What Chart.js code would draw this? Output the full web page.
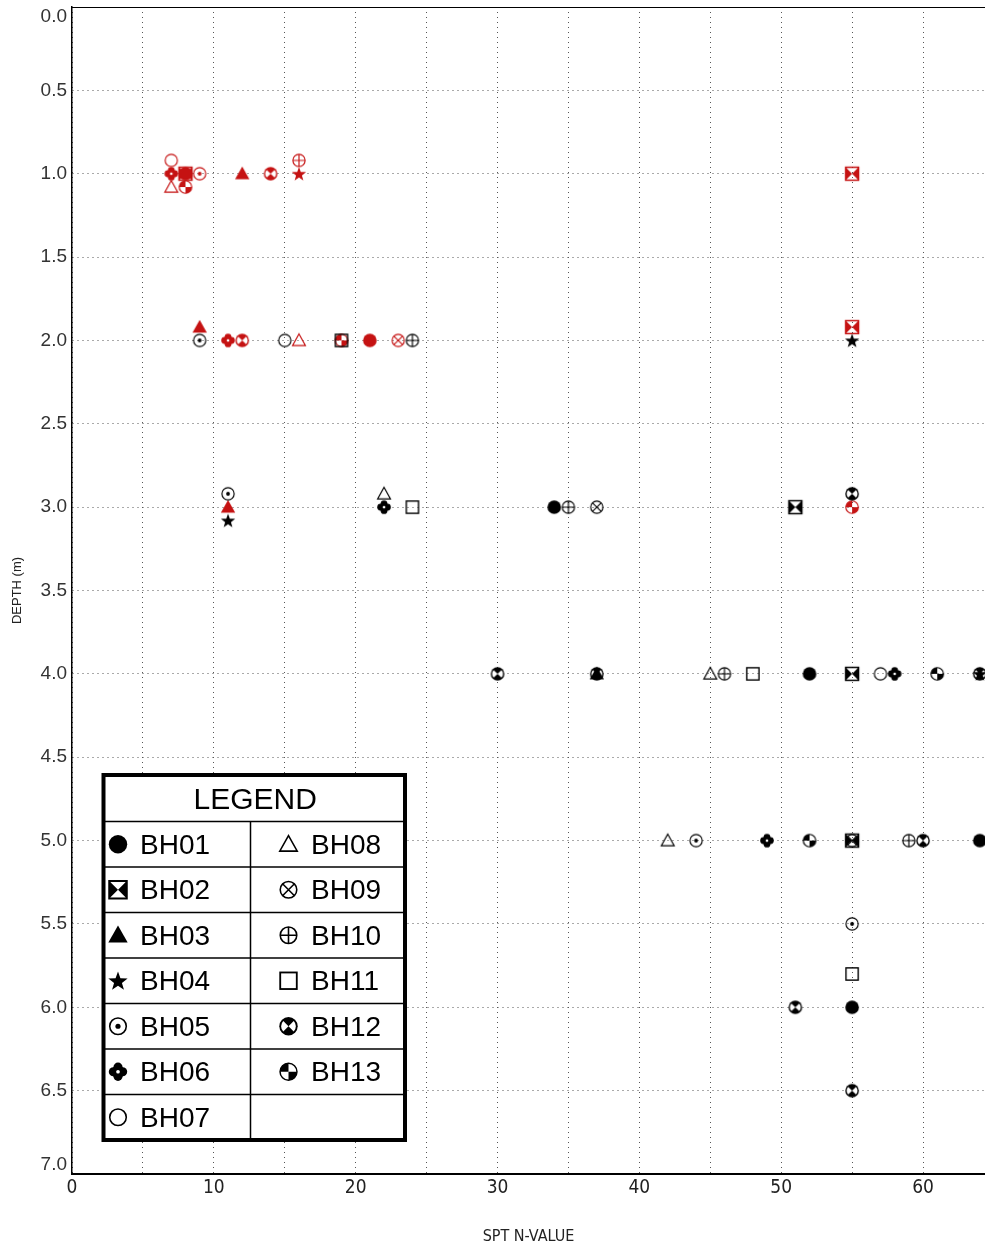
<!DOCTYPE html>
<html><head><meta charset="utf-8">
<script src="https://cdn.jsdelivr.net/npm/chart.js@4.4.0/dist/chart.umd.min.js"></script>
<style>html,body{margin:0;padding:0;background:#fff}#wrap{width:985px;height:1247px;position:relative}</style>
</head><body><div id="wrap"><canvas id="c" width="985" height="1247"></canvas></div>
<script>
// ---- data ----
const boreholes = ['BH01','BH02','BH03','BH04','BH05','BH06','BH07','BH08','BH09','BH10','BH11','BH12','BH13'];
const symbolNames = ['dot','bowtie','tri','star','circdot','quatre','circ','otri','circx','circplus','osq','bh12','bh13'];
// [SPT N, depth m] pairs, red group
const BH01_red = [[8,1.0],[21,2.0]];
const BH02_red = [[8,1.0],[55,1.0],[55,1.92]];
const BH03_red = [[12,1.0],[9,1.92],[11,3.0]];
const BH04_red = [[16,1.0]];
const BH05_red = [[9,1.0]];
const BH06_red = [[7,1.0],[11,2.0]];
const BH07_red = [[7,0.92]];
const BH08_red = [[7,1.08],[16,2.0]];
const BH09_red = [[23,2.0]];
const BH10_red = [[16,0.92]];
const BH11_red = [];
const BH12_red = [[14,1.0],[12,2.0]];
const BH13_red = [[8,1.08],[19,2.0],[55,3.0]];
// black group
const BH01_blk = [[34,3.0],[52,4.0],[64,5.0],[55,6.0]];
const BH02_blk = [[51,3.0],[55,4.0],[55,5.0]];
const BH03_blk = [[37,4.0]];
const BH04_blk = [[55,2.0],[11,3.08],[64,4.0]];
const BH05_blk = [[9,2.0],[11,2.92],[44,5.0],[55,5.5]];
const BH06_blk = [[22,3.0],[58,4.0],[49,5.0]];
const BH07_blk = [[15,2.0],[57,4.0]];
const BH08_blk = [[22,2.92],[45,4.0],[42,5.0]];
const BH09_blk = [[37,3.0],[55,5.0]];
const BH10_blk = [[24,2.0],[35,3.0],[46,4.0],[59,5.0]];
const BH11_blk = [[19,2.0],[24,3.0],[48,4.0],[55,5.8]];
const BH12_blk = [[55,2.92],[30,4.0],[37,4.0],[64,4.0],[60,5.0],[51,6.0],[55,6.5]];
const BH13_blk = [[61,4.0],[52,5.0]];
const xTicks = [0,10,20,30,40,50,60];
const yTicks = [0,0.5,1,1.5,2,2.5,3,3.5,4,4.5,5,5.5,6,6.5,7];

const redGroups = [BH01_red,BH02_red,BH03_red,BH04_red,BH05_red,BH06_red,BH07_red,BH08_red,BH09_red,BH10_red,BH11_red,BH12_red,BH13_red];
const blkGroups = [BH01_blk,BH02_blk,BH03_blk,BH04_blk,BH05_blk,BH06_blk,BH07_blk,BH08_blk,BH09_blk,BH10_blk,BH11_blk,BH12_blk,BH13_blk];

const RED = '#c51212', BLK = '#000000';

function drawSym(ctx, sym, cx, cy, r, col) {
  ctx.save();
  ctx.fillStyle = col; ctx.strokeStyle = col; ctx.lineWidth = Math.max(1.1, r*0.17);
  const circle = (rr)=>{ctx.beginPath();ctx.arc(cx,cy,rr,0,Math.PI*2);};
  switch (sym) {
    case 'dot': circle(r); ctx.fill(); break;
    case 'bowtie': {
      const h = r*0.95;
      ctx.beginPath(); ctx.moveTo(cx-h,cy-h); ctx.lineTo(cx,cy); ctx.lineTo(cx-h,cy+h); ctx.closePath(); ctx.fill();
      ctx.beginPath(); ctx.moveTo(cx+h,cy-h); ctx.lineTo(cx,cy); ctx.lineTo(cx+h,cy+h); ctx.closePath(); ctx.fill();
      ctx.lineWidth = Math.max(1.5, r*0.22);
      ctx.strokeRect(cx-h,cy-h,2*h,2*h); break; }
    case 'tri': ctx.beginPath(); ctx.moveTo(cx,cy-r*1.05); ctx.lineTo(cx+r*1.05,cy+r*0.8); ctx.lineTo(cx-r*1.05,cy+r*0.8); ctx.closePath(); ctx.fill(); break;
    case 'otri': ctx.beginPath(); ctx.moveTo(cx,cy-r*0.95); ctx.lineTo(cx+r*0.95,cy+r*0.75); ctx.lineTo(cx-r*0.95,cy+r*0.75); ctx.closePath(); ctx.stroke(); break;
    case 'star': {
      ctx.beginPath();
      for (let i=0;i<10;i++){ const a=-Math.PI/2+i*Math.PI/5; const rr = i%2===0? r*1.1 : r*0.45;
        const px=cx+rr*Math.cos(a), py=cy+rr*Math.sin(a)+r*0.1; i?ctx.lineTo(px,py):ctx.moveTo(px,py);} 
      ctx.closePath(); ctx.fill(); break; }
    case 'circdot': circle(r*0.9); ctx.stroke(); circle(r*0.28); ctx.fill(); break;
    case 'circ': circle(r*0.9); ctx.stroke(); break;
    case 'circx': { circle(r*0.9); ctx.stroke(); const d=r*0.62; ctx.beginPath(); ctx.moveTo(cx-d,cy-d); ctx.lineTo(cx+d,cy+d); ctx.moveTo(cx+d,cy-d); ctx.lineTo(cx-d,cy+d); ctx.stroke(); break; }
    case 'circplus': { circle(r*0.9); ctx.stroke(); ctx.beginPath(); ctx.moveTo(cx-r*0.9,cy); ctx.lineTo(cx+r*0.9,cy); ctx.moveTo(cx,cy-r*0.9); ctx.lineTo(cx,cy+r*0.9); ctx.stroke(); break; }
    case 'osq': { const h=r*0.9; ctx.lineWidth=Math.max(1.4,r*0.2); ctx.strokeRect(cx-h,cy-h,2*h,2*h); break; }
    case 'quatre': {
      const o=r*0.5, rr=r*0.5;
      [[0,-o],[0,o],[-o,0],[o,0]].forEach(p=>{ctx.beginPath();ctx.arc(cx+p[0],cy+p[1],rr,0,Math.PI*2);ctx.fill();});
      ctx.fillRect(cx-o,cy-o,2*o,2*o);
      ctx.fillStyle='#fff'; circle(r*0.2); ctx.fill(); break; }
    case 'bh12': {
      circle(r); ctx.fill();
      ctx.fillStyle='#fff';
      ctx.beginPath(); ctx.moveTo(cx,cy); ctx.arc(cx,cy,r*0.8,Math.PI*0.75,Math.PI*1.25); ctx.closePath(); ctx.fill();
      ctx.beginPath(); ctx.moveTo(cx,cy); ctx.arc(cx,cy,r*0.8,-Math.PI*0.25,Math.PI*0.25); ctx.closePath(); ctx.fill();
      break; }
    case 'bh13': {
      circle(r*0.92); ctx.lineWidth=Math.max(1.2,r*0.16); ctx.stroke();
      ctx.beginPath(); ctx.moveTo(cx,cy); ctx.arc(cx,cy,r*0.92,Math.PI,Math.PI*1.5); ctx.closePath(); ctx.fill();
      ctx.beginPath(); ctx.moveTo(cx,cy); ctx.arc(cx,cy,r*0.92,0,Math.PI*0.5); ctx.closePath(); ctx.fill();
      break; }
  }
  ctx.restore();
}

function makeIcon(sym, col) {
  const c = document.createElement('canvas'); c.width = 20; c.height = 20;
  drawSym(c.getContext('2d'), sym, 10, 10, 6.8, col);
  return c;
}

const datasets = [];
boreholes.forEach((bh, i) => {
  datasets.push({ label: bh + ' (black)', data: blkGroups[i].map(p => ({x:p[0], y:p[1]})),
    pointStyle: makeIcon(symbolNames[i], BLK), pointRadius: 8, showLine: false });
});
boreholes.forEach((bh, i) => {
  datasets.push({ label: bh + ' (red)', data: redGroups[i].map(p => ({x:p[0], y:p[1]})),
    pointStyle: makeIcon(symbolNames[i], RED), pointRadius: 8, showLine: false });
});

const FONT = "'Liberation Sans', Arial, sans-serif";
const NARROW = "'Liberation Sans Narrow', 'DejaVu Sans Condensed', 'Liberation Sans', sans-serif";

const framePlugin = {
  id: 'frame',
  afterDatasetsDraw(chart) {
    const {ctx, chartArea: a} = chart;
    ctx.save();
    ctx.strokeStyle = '#000';
    ctx.lineWidth = 1.2;
    ctx.beginPath(); ctx.moveTo(a.left, a.top+0.5); ctx.lineTo(a.right, a.top+0.5); ctx.stroke();
    ctx.restore();
  },
  afterDraw(chart) {
    const ctx = chart.ctx;
    const L = 103.5, R = 405, T = 775, B = 1140, mid = 250.5;
    const titleB = 821.5, rowH = (B - titleB) / 7;
    ctx.save();
    ctx.fillStyle = '#fff'; ctx.fillRect(L, T, R-L, B-T);
    ctx.strokeStyle = '#000'; ctx.lineWidth = 1.5;
    for (let k = 0; k < 7; k++) {
      const y = titleB + k*rowH;
      ctx.beginPath(); ctx.moveTo(L, y); ctx.lineTo(R, y); ctx.stroke();
    }
    ctx.beginPath(); ctx.moveTo(mid, titleB); ctx.lineTo(mid, B); ctx.stroke();
    ctx.lineWidth = 4; ctx.strokeRect(L, T, R-L, B-T);
    ctx.fillStyle = '#000'; ctx.textBaseline = 'middle';
    ctx.font = '30px ' + FONT; ctx.textAlign = 'center';
    ctx.fillText('LEGEND', (L+R)/2 + 1, (T+titleB)/2 + 2);
    ctx.font = '28px ' + FONT; ctx.textAlign = 'left';
    boreholes.forEach((bh, i) => {
      const col = i < 7 ? 0 : 1, row = i < 7 ? i : i - 7;
      const cy = titleB + rowH*(row + 0.5);
      const sx = col ? 288.5 : 118, tx = col ? 311 : 140;
      drawSym(ctx, symbolNames[i], sx, cy, 9.2, '#000');
      ctx.fillText(bh, tx, cy + 2);
    });
    ctx.restore();
  }
};

new Chart(document.getElementById('c'), {
  type: 'scatter',
  data: { datasets },
  plugins: [framePlugin],
  options: {
    responsive: false, animation: false, devicePixelRatio: 1,
    layout: { autoPadding: false, padding: { top: 7, left: 0, right: 0, bottom: 0 } },
    plugins: { legend: { display: false }, tooltip: { enabled: false } },
    scales: {
      x: {
        type: 'linear', position: 'bottom', min: 0, max: 64.37,
        afterFit: s => { s.height = 73; s.paddingLeft = 0; s.paddingRight = 0; },
        ticks: { stepSize: 5, includeBounds: false, autoSkip: false, maxRotation: 0, padding: 3,
          color: '#222', font: { family: NARROW, size: 19 },
          callback: v => (xTicks.includes(v) ? String(v) : '') },
        grid: { color: '#555', lineWidth: 1, drawTicks: false },
        border: { display: true, color: '#000', width: 2, dash: [1, 4] },
        title: { display: true, text: 'SPT N-VALUE', color: '#222', font: { family: NARROW, size: 16 }, padding: { top: 0, bottom: 1 } }
      },
      y: {
        type: 'linear', reverse: true, min: 0, max: 7,
        afterFit: s => { s.width = 72; s.paddingTop = 0; s.paddingBottom = 0; },
        ticks: { stepSize: 0.5, autoSkip: false, padding: 5, color: '#333', font: { family: FONT, size: 19, lineHeight: 1.0 },
          callback: v => {
            if (!yTicks.some(t => Math.abs(t - v) < 1e-9)) return '';
            const s = v.toFixed(1);
            if (v === 0) return ['', s];
            if (Math.abs(v - 7) < 1e-9) return [s, ''];
            return s;
          } },
        grid: { color: '#555', lineWidth: 1, drawTicks: false },
        border: { display: true, color: '#000', width: 1.5, dash: [1, 4] },
        title: { display: true, text: 'DEPTH (m)', color: '#222', font: { family: FONT, size: 13 }, padding: { top: 10, bottom: 0 } }
      }
    }
  }
});
</script>
</body></html>
